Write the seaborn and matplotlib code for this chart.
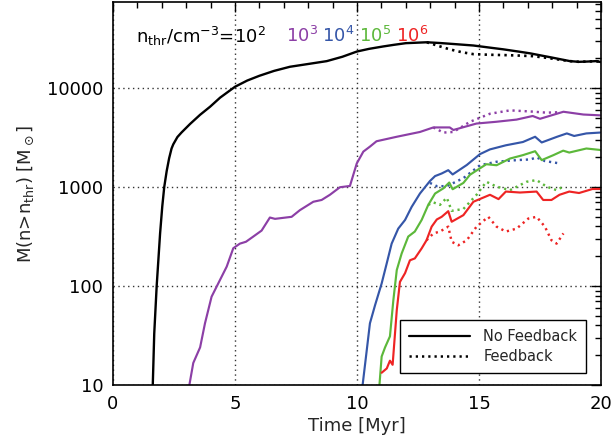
import numpy as np
import pandas as pd
import matplotlib
matplotlib.use("Agg")
import matplotlib.pyplot as plt
from matplotlib.lines import Line2D
from matplotlib.ticker import FixedLocator, NullFormatter, LogLocator, MultipleLocator
import seaborn as sns

# ---------------- data ----------------
# n_thr = 1e2 (black)
t_1e2 = [1.63, 1.69, 1.79, 1.93, 2.02, 2.10, 2.20, 2.30, 2.40, 2.47, 2.64, 2.81, 3.16, 3.57, 3.98,
         4.39, 5.00, 5.50, 6.00, 6.60, 7.25, 8.00, 8.76, 9.40, 10.0, 10.5, 11.07, 11.5,
         12.0, 12.86, 13.4, 14.0, 14.77, 15.5, 16.0, 16.6, 17.1, 17.6, 18.0, 18.4, 18.73,
         19.1, 19.4, 19.8, 20.0]
m_1e2 = [10, 33, 100, 340, 640, 1000, 1450, 1950, 2450, 2700, 3200, 3560, 4340, 5370, 6480,
         8000, 10300, 11900, 13300, 14900, 16400, 17500, 18700, 20700, 23400, 24900, 26300, 27300,
         28400, 29000, 28500, 27800, 26900, 25500, 24600, 23400, 22400, 21200, 20300, 19400, 18700,
         18400, 18500, 18700, 18300]
t_1e2_fb = [12.86, 13.3, 13.8, 14.3, 14.77, 15.4, 16.1, 16.6, 17.2, 17.7, 18.2, 18.73,
            19.1, 19.4, 19.8, 20.0]
m_1e2_fb = [29000, 26800, 24600, 23000, 22000, 21700, 21500, 21300, 21000, 20300, 19500, 18700,
            18400, 18500, 18700, 18300]

# n_thr = 1e3 (purple)
t_1e3 = [3.13, 3.29, 3.57, 3.77, 4.04, 4.32, 4.66, 4.93, 5.20, 5.45, 5.75, 6.09, 6.43,
         6.64, 7.32, 7.66, 8.21, 8.55, 8.89, 9.30, 9.71, 9.99, 10.26, 10.53, 10.8,
         11.63, 12.58, 13.13, 13.8, 13.95, 14.9, 15.7, 16.54, 17.2, 17.5, 18.46,
         19.28, 19.96]
m_1e3 = [10, 16.7, 24, 42, 78, 107, 157, 241, 268, 280, 316, 363, 492,
         477, 500, 584, 710, 740, 835, 995, 1025, 1730, 2280, 2560, 2900,
         3220, 3600, 4000, 4000, 3770, 4380, 4560, 4800, 5220, 4890, 5760,
         5400, 5300]
t_1e3_fb = [13.13, 13.54, 13.95, 14.63, 15.45, 16.27, 17.1, 17.77, 18.3]
m_1e3_fb = [4000, 3550, 3600, 4560, 5500, 5950, 5800, 5640, 5700]

# n_thr = 1e4 (blue)
t_1e4 = [10.23, 10.4, 10.53, 10.74, 11.01, 11.22, 11.42, 11.69, 11.97, 12.24, 12.58,
         12.99, 13.2, 13.47, 13.74, 13.92, 14.5, 15.04, 15.45, 16.1, 16.8, 17.3,
         17.57, 18.2, 18.6, 18.9, 19.4, 19.96]
m_1e4 = [10, 22.5, 42, 64, 106, 170, 268, 380, 465, 630, 860,
         1150, 1290, 1370, 1480, 1340, 1670, 2150, 2400, 2640, 2850, 3220,
         2820, 3220, 3480, 3280, 3480, 3550]
t_1e4_fb = [12.99, 13.27, 13.68, 14.36, 15.04, 15.72, 16.54, 17.1, 17.36, 17.7, 18.32]
m_1e4_fb = [1100, 1020, 1020, 1230, 1660, 1800, 1870, 1900, 1990, 1830, 1730]

# n_thr = 1e5 (green)
t_1e5 = [10.92, 11.01, 11.15, 11.35, 11.49, 11.63, 11.83, 12.1, 12.37, 12.65, 12.92,
         13.2, 13.54, 13.78, 13.92, 14.36, 14.63, 15.3, 15.72, 16.27, 16.8, 17.3,
         17.57, 18.05, 18.45, 18.7, 19.4, 19.96]
m_1e5 = [10, 19.4, 24, 31, 72, 145, 213, 316, 355, 465, 660,
         860, 970, 1110, 950, 1100, 1330, 1700, 1660, 1940, 2100, 2300,
         1870, 2100, 2330, 2230, 2450, 2370]
t_1e5_fb = [12.92, 13.13, 13.4, 13.68, 13.88, 14.36, 14.9, 15.3, 15.72, 16.27, 16.95,
            17.36, 17.77, 18.18, 18.45]
m_1e5_fb = [660, 700, 660, 780, 575, 600, 835, 1130, 1010, 930, 1130,
            1175, 1010, 930, 1010]

# n_thr = 1e6 (red)
t_1e6 = [11.01, 11.22, 11.35, 11.46, 11.63, 11.76, 11.97, 12.17, 12.37, 12.65, 12.85,
         13.06, 13.27, 13.47, 13.74, 13.88, 14.36, 14.77, 15.45, 15.8, 16.1, 16.68,
         17.36, 17.63, 17.97, 18.3, 18.7, 19.1, 19.65, 19.96]
m_1e6 = [13.3, 14.7, 17.6, 16, 57, 110, 135, 182, 190, 240, 290,
         398, 470, 500, 570, 446, 520, 710, 835, 755, 900, 880,
         900, 740, 740, 835, 900, 870, 955, 955]
t_1e6_fb = [12.85, 13.13, 13.4, 13.74, 13.88, 14.15, 14.5, 14.9, 15.38, 15.72, 16.1,
            16.54, 17.02, 17.36, 17.7, 17.97, 18.18, 18.46]
m_1e6_fb = [290, 340, 355, 398, 280, 258, 290, 398, 500, 398, 355,
            380, 480, 500, 398, 290, 268, 340]

labels_nthr = ["10$^{3}$", "10$^{4}$", "10$^{5}$", "10$^{6}$"]
x_ticks = [0, 5, 10, 15, 20]
y_ticks = [10, 100, 1000, 10000]
y_ticklabels = ["10", "100", "1000", "10000"]

# ---------------- styling ----------------
c_black = "#000000"
c_purple = "#8C3FA6"
c_blue = "#3556A8"
c_green = "#5CB83A"
c_red = "#EE2424"

sns.set_style("white")
plt.rcParams["font.family"] = ["DejaVu Sans"]

fig = plt.figure(figsize=(6.13, 4.48), dpi=100)
ax = fig.add_axes([113 / 613, 63 / 448, 488 / 613, 383 / 448])

dot = (0, (0.9, 1.6))
series = [
    (t_1e2, m_1e2, t_1e2_fb, m_1e2_fb, c_black, 1.7),
    (t_1e3, m_1e3, t_1e3_fb, m_1e3_fb, c_purple, 1.55),
    (t_1e4, m_1e4, t_1e4_fb, m_1e4_fb, c_blue, 1.55),
    (t_1e5, m_1e5, t_1e5_fb, m_1e5_fb, c_green, 1.55),
    (t_1e6, m_1e6, t_1e6_fb, m_1e6_fb, c_red, 1.55),
]
for t, m, tf, mf, col, lw in series:
    sns.lineplot(x=t, y=m, ax=ax, color=col, linewidth=lw, sort=False)
    sns.lineplot(x=tf, y=mf, ax=ax, color=col, linewidth=lw + 0.2, linestyle=dot, sort=False)

ax.set_yscale("log")
ax.set_xlim(0, 20)
ax.set_ylim(10, 7.4e4)

ax.set_xticks(x_ticks)
ax.set_xticklabels([str(v) for v in x_ticks])
ax.xaxis.set_minor_locator(MultipleLocator(1))
ax.yaxis.set_major_locator(FixedLocator(y_ticks))
ax.set_yticklabels(y_ticklabels)
ax.yaxis.set_minor_locator(LogLocator(base=10, subs=np.arange(2, 10)))
ax.yaxis.set_minor_formatter(NullFormatter())

ax.tick_params(which="both", direction="in", top=True, right=True, width=1, colors="black",
               labelsize=13)
ax.tick_params(which="major", length=7, pad=7)
ax.tick_params(which="minor", length=4)
for s in ax.spines.values():
    s.set_color("black")
    s.set_linewidth(1.2)

ax.grid(True, which="major", linestyle=(0, (1, 2.5)), color="#333333", linewidth=1.0)

ax.set_xlabel("Time [Myr]", fontsize=13, labelpad=3)
ax.set_ylabel(r"M(n>n$_{\rm thr}$) [M$_\odot$]", fontsize=13, labelpad=8)

# annotation of thresholds
def axfrac(px, py):
    return ((px - 113) / 488, (385 - py) / 383)

ax.text(*axfrac(136, 36), r"n$_{\rm thr}$/cm$^{-3}$=10$^{2}$", transform=ax.transAxes,
        fontsize=13, color=c_black, va="center", ha="left")
for lab, col, px in zip(labels_nthr, [c_purple, c_blue, c_green, c_red], [286, 322, 359, 396]):
    ax.text(*axfrac(px, 36), lab, transform=ax.transAxes, fontsize=13, color=col,
            va="center", ha="left")

handles = [Line2D([], [], color="black", linewidth=1.6),
           Line2D([], [], color="black", linewidth=1.8, linestyle=dot)]
leg = ax.legend(handles, ["No Feedback", "Feedback"], loc="lower right",
                bbox_to_anchor=axfrac(586, 373), fontsize=10.5, frameon=True,
                fancybox=False, edgecolor="black", framealpha=1, handlelength=4.2,
                handletextpad=0.9, borderpad=0.6, labelspacing=0.35, borderaxespad=0)
leg.get_frame().set_linewidth(1.0)

fig.savefig("out.png", dpi=100)
